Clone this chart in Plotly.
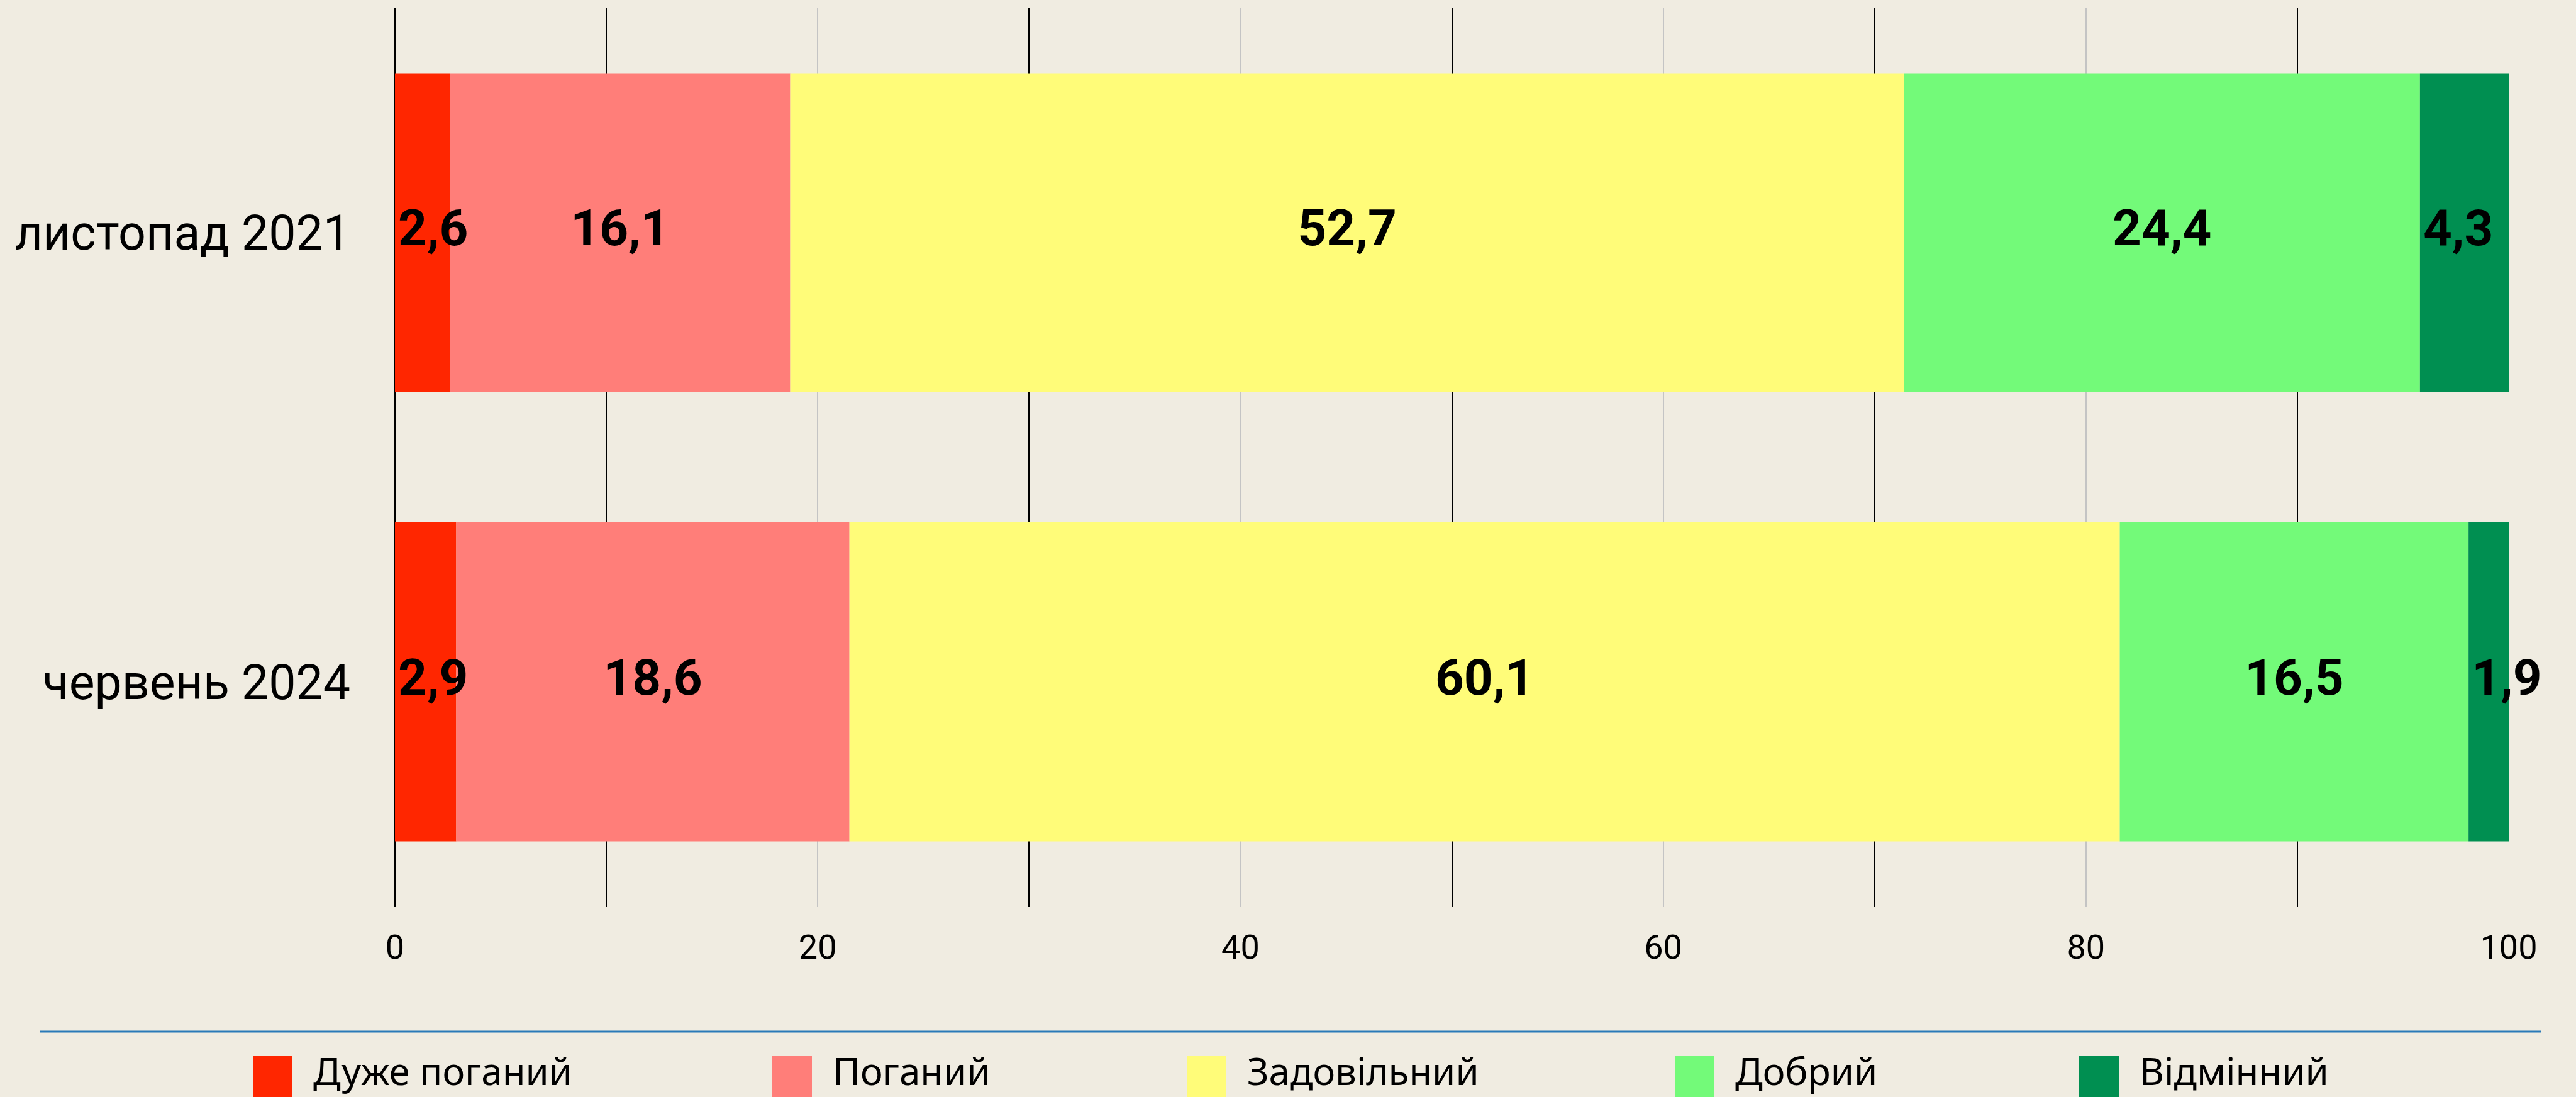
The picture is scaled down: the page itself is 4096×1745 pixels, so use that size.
import plotly.graph_objects as go

# ---- data ----
categories = ["листопад 2021", "червень 2024"]
series_names = ["Дуже поганий", "Поганий", "Задовільний", "Добрий", "Відмінний"]
very_bad = [2.6, 2.9]
bad = [16.1, 18.6]
satisfactory = [52.7, 60.1]
good = [24.4, 16.5]
excellent = [4.3, 1.9]
series_values = [very_bad, bad, satisfactory, good, excellent]
x_ticks = [0, 20, 40, 60, 80, 100]

# ---- styles ----
colors = ["#FF2600", "#FF7E79", "#FFFC79", "#73FA79", "#008F51"]
anchors = ["start", "middle", "middle", "middle", "start"]
BG = "#F0ECE1"
W, H = 4096, 1745
ML, MR, MT, MB = 628, 107, 13, 303
PW = W - ML - MR
PH = H - MT - MB


def px_x(p):
    return (p - ML) / PW


def px_y(p):
    return (H - MB - p) / PH


fig = go.Figure()
bases = [0.0] * len(categories)
lab_x, lab_y, lab_t, lab_pos = [], [], [], []
for name, vals, col, anc in zip(series_names, series_values, colors, anchors):
    fig.add_trace(go.Bar(
        y=categories, x=vals, base=list(bases), name=name, orientation="h",
        marker=dict(color=col, line=dict(width=0)),
        showlegend=False, hoverinfo="skip",
    ))
    for i, v in enumerate(vals):
        if anc == "start":
            lab_x.append(bases[i] + 0.15)
            lab_pos.append("middle right")
        else:
            lab_x.append(bases[i] + v / 2)
            lab_pos.append("middle center")
        lab_y.append(categories[i])
        lab_t.append(f"{v:.1f}".replace(".", ","))
        bases[i] += v

fig.add_trace(go.Scatter(
    x=lab_x, y=lab_y, text=lab_t, mode="text", textposition=lab_pos,
    textfont=dict(family="Roboto", size=80, color="black", weight="bold"),
    cliponaxis=False, showlegend=False, hoverinfo="skip",
))

# legend drawn manually (big swatches as in the reference)
legend_left = [402, 1228, 1887, 2663, 3306]
shapes = []
annotations = []
for name, col, lx in zip(series_names, colors, legend_left):
    shapes.append(dict(type="rect", xref="paper", yref="paper",
                       x0=px_x(lx), x1=px_x(lx + 63), y0=px_y(1680), y1=px_y(1760),
                       fillcolor=col, line=dict(width=0), layer="above"))
    annotations.append(dict(xref="paper", yref="paper", x=px_x(lx + 94), y=px_y(1703),
                            xanchor="left", yanchor="middle", showarrow=False,
                            text=name, font=dict(family="Noto Sans", size=60, color="black")))
# separator line above legend
shapes.append(dict(type="line", xref="paper", yref="paper",
                   x0=px_x(64), x1=px_x(4040), y0=px_y(1641), y1=px_y(1641),
                   line=dict(color="#2A7AB8", width=3), layer="above"))

fig.update_layout(
    width=W, height=H,
    margin=dict(l=ML, r=MR, t=MT, b=MB, pad=0, autoexpand=False),
    paper_bgcolor=BG, plot_bgcolor=BG,
    barmode="overlay", bargap=0.29,
    shapes=shapes, annotations=annotations,
    showlegend=False,
    xaxis=dict(range=[0, 100], tickvals=x_ticks, showgrid=True,
               gridcolor="#C4C4C4", gridwidth=2,
               minor=dict(dtick=10, tick0=0, showgrid=True, gridcolor="black", gridwidth=2),
               zeroline=True, zerolinecolor="black", zerolinewidth=2,
               showline=False, ticks="", automargin=False,
               tickfont=dict(family="Roboto", size=54, color="black"),
               ticklabelstandoff=28, fixedrange=True),
    yaxis=dict(autorange="reversed", showgrid=False, showline=False, zeroline=False,
               ticks="", automargin=False,
               tickfont=dict(family="Roboto", size=77, color="black"),
               ticklabelstandoff=70, fixedrange=True),
)

fig.write_html(
    "out.html",
    config={"displayModeBar": False},
    post_script="document.body.style.margin='0';document.body.style.overflow='hidden';",
)
